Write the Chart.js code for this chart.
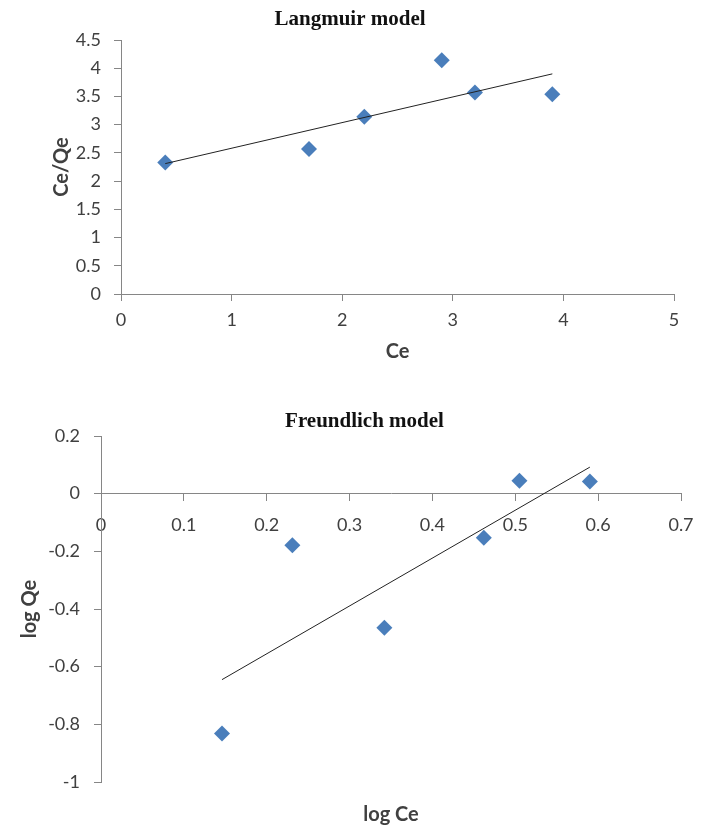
<!DOCTYPE html>
<html>
<head>
<meta charset="utf-8">
<script src="https://cdn.jsdelivr.net/npm/chart.js@4.4.1/dist/chart.umd.min.js"></script>
<style>
  html, body { margin: 0; padding: 0; background: #fff; }
  body { width: 710px; height: 827px; position: relative; overflow: hidden; }
  .box { position: absolute; left: 0; width: 710px; }
  #top { top: 0; height: 370px; }
  #bottom { top: 395px; height: 432px; }
</style>
</head>
<body>
<div class="box" id="top"><canvas id="langmuir"></canvas></div>
<div class="box" id="bottom"><canvas id="freundlich"></canvas></div>
<script>
// Langmuir data
const langCe = [0.4, 1.7, 2.2, 2.9, 3.2, 3.9];
const langCeQe = [2.33, 2.57, 3.14, 4.14, 3.57, 3.54];
const langTrendX = [0.4, 3.9];
const langTrendY = [2.31, 3.9];

// Freundlich data
const freLogCe = [0.146, 0.231, 0.342, 0.462, 0.505, 0.59];
const freLogQe = [-0.832, -0.179, -0.465, -0.153, 0.045, 0.042];
const freTrendX = [0.146, 0.59];
const freTrendY = [-0.645, 0.092];

const AXIS = "#868686";
const TEXT = "#404040";
const tickFont = { family: "Lato", size: 18 };
const axisTitleFont = { family: "Lato", size: 20, weight: "bold" };
const titleFont = { family: "Liberation Serif", size: 21, weight: "bold" };

Chart.defaults.animation = false;
Chart.defaults.color = TEXT;

const toPoints = (xs, ys) => xs.map((x, i) => ({ x: x, y: ys[i] }));
// excel style labels: 4 not 4.0
const fmt = (v) => String(Math.round(v * 10) / 10);

const axisGrid = { display: true, drawOnChartArea: false, drawTicks: true, tickLength: 7, color: AXIS };
const axisBorder = { display: true, color: AXIS, width: 1 };

function datasets(xs, ys, tx, ty) {
  return [
    {
      type: "line",
      data: toPoints(tx, ty),
      borderColor: "#222",
      borderWidth: 1,
      pointRadius: 0,
      fill: false,
      order: 0,
    },
    {
      type: "scatter",
      data: toPoints(xs, ys),
      pointStyle: "rectRot",
      pointRadius: 8,
      pointHoverRadius: 8,
      backgroundColor: "#4A7EBB",
      borderWidth: 0,
      order: 1,
    },
  ];
}

const commonPlugins = (text, top, bottom) => ({
  legend: { display: false },
  tooltip: { enabled: false },
  title: { display: true, text: text, color: "#111", font: titleFont, padding: { top: top, bottom: bottom } },
});

// langmuir
new Chart(document.getElementById("langmuir"), {
  data: { datasets: datasets(langCe, langCeQe, langTrendX, langTrendY) },
  options: {
    responsive: true,
    maintainAspectRatio: false,
    events: [],
    layout: { padding: { left: 26, right: 36, top: 0, bottom: 0 } },
    plugins: commonPlugins("Langmuir model", 7.4, 7.4),
    scales: {
      x: {
        type: "linear",
        min: 0,
        max: 5,
        ticks: { stepSize: 1, font: tickFont, padding: 8, autoSkip: false, maxRotation: 0, callback: fmt },
        grid: axisGrid,
        border: axisBorder,
        title: { display: true, text: "Ce", font: axisTitleFont, color: TEXT, padding: { top: 0, bottom: 6 } },
        afterFit: (s) => { s.height = 76; },
      },
      y: {
        type: "linear",
        min: 0,
        max: 4.5,
        ticks: { stepSize: 0.5, font: tickFont, padding: 13, autoSkip: false, callback: fmt },
        grid: axisGrid,
        border: axisBorder,
        title: { display: true, text: "Ce/Qe", font: axisTitleFont, color: TEXT, padding: { top: 24, bottom: 0 } },
        afterFit: (s) => { s.width = 95; },
      },
    },
  },
});

// freundlich
new Chart(document.getElementById("freundlich"), {
  data: { datasets: datasets(freLogCe, freLogQe, freTrendX, freTrendY) },
  options: {
    responsive: true,
    maintainAspectRatio: false,
    events: [],
    layout: { padding: { left: 48, right: 29, top: 0, bottom: 0 } },
    plugins: commonPlugins("Freundlich model", 14.4, 1.4),
    scales: {
      x: {
        type: "linear",
        position: { y: 0 },
        min: 0,
        max: 0.7,
        ticks: { stepSize: 0.1, font: tickFont, padding: 13.7, autoSkip: false, maxRotation: 0, callback: fmt },
        grid: axisGrid,
        border: axisBorder,
      },
      x2: {
        type: "linear",
        axis: "x",
        position: "bottom",
        min: 0,
        max: 0.7,
        ticks: { display: false },
        grid: { display: false },
        border: { display: false },
        title: { display: true, text: "log Ce", font: axisTitleFont, color: TEXT, padding: { top: 0, bottom: 0 } },
        afterFit: (s) => { s.height = 45; },
      },
      y: {
        type: "linear",
        min: -1,
        max: 0.2,
        ticks: { stepSize: 0.2, font: tickFont, padding: 14, autoSkip: false, callback: fmt },
        grid: axisGrid,
        border: axisBorder,
        title: { display: true, text: "log Qe", font: axisTitleFont, color: TEXT, padding: { top: -30, bottom: 0 } },
        afterFit: (s) => { s.width = 53; },
      },
    },
  },
});
</script>
</body>
</html>
